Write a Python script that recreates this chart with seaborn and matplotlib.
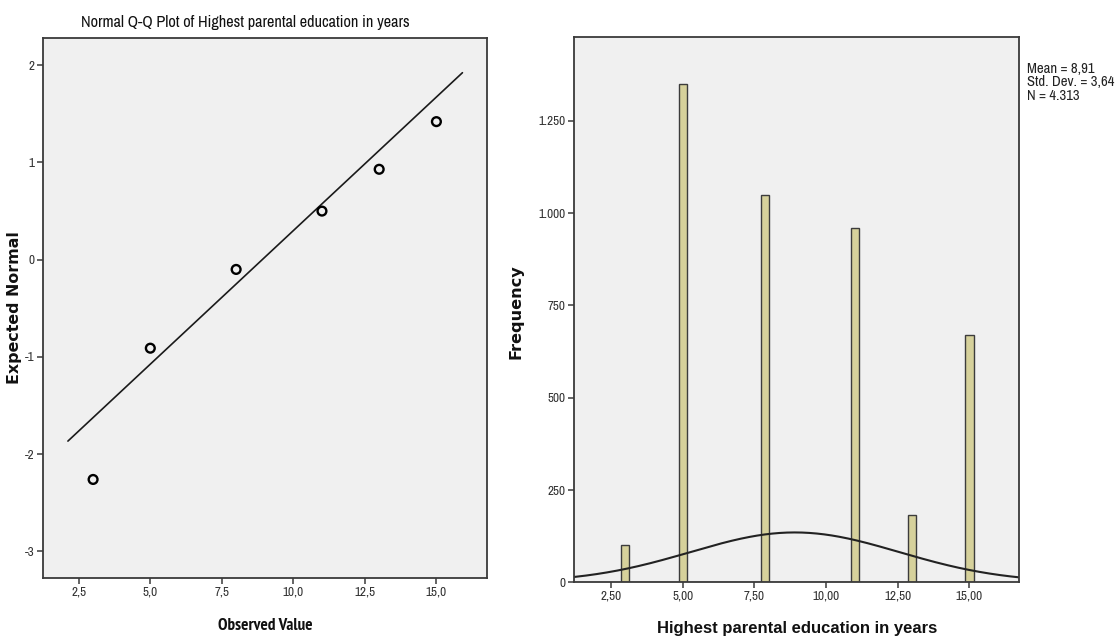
import numpy as np
import pandas as pd
import matplotlib
matplotlib.use("Agg")
import matplotlib.pyplot as plt
from matplotlib import font_manager
from matplotlib.ticker import FixedLocator, FuncFormatter
import seaborn as sns

# Highest parental education in years: distinct values and their frequencies
years = [3, 5, 8, 11, 13, 15]
counts = [100, 1350, 1050, 960, 182, 671]

# Expected normal scores of each distinct value (Q-Q plot)
expected_normal = [-2.26, -0.91, -0.10, 0.50, 0.93, 1.42]

# Summary statistics shown beside the histogram
mean_val = 8.91
sd_val = 3.64
n_total = 4313

# Histogram binning: 42 equal steps between the smallest and largest value
n_steps = 42
# Span of the Q-Q reference line
fit_range = [2.12, 15.91]

qq_xticks = [2.5, 5.0, 7.5, 10.0, 12.5, 15.0]
qq_yticks = [-3, -2, -1, 0, 1, 2]
hist_xticks = [2.5, 5.0, 7.5, 10.0, 12.5, 15.0]
hist_yticks = [0, 250, 500, 750, 1000, 1250]

sns.set_theme(style="white")

font_weights = {}
for f in font_manager.fontManager.ttflist:
    w = f.weight if isinstance(f.weight, int) else 400
    font_weights.setdefault(f.name, set()).add(w)


def pick(candidates, default, need_bold=False):
    for c in candidates:
        if c in font_weights:
            if not need_bold or any(w >= 600 for w in font_weights[c]):
                return c
    return default


NARROW_CANDIDATES = ["Liberation Sans Narrow", "Arial Narrow", "Archivo Narrow",
                     "PT Sans Narrow", "Roboto Condensed", "Fira Sans Condensed",
                     "IBM Plex Sans Condensed", "Encode Sans Condensed",
                     "Asap Condensed", "Sofia Sans Condensed",
                     "Barlow Semi Condensed", "Pragati Narrow"]
NARROW_FAMILY = pick(NARROW_CANDIDATES, "Liberation Sans")
NARROW_BOLD_FAMILY = pick(NARROW_CANDIDATES, "Liberation Sans", need_bold=True)
SANS_FAMILY = pick(["Liberation Sans", "Arimo"], "DejaVu Sans")
NARROW = [NARROW_FAMILY, "DejaVu Sans"]
NARROW_BOLD = [NARROW_BOLD_FAMILY, "DejaVu Sans"]
BOLD = [SANS_FAMILY, "DejaVu Sans"]
WIDE_BOLD = ["DejaVu Sans"]
plt.rcParams["font.family"] = NARROW

PANEL_BG = "#f0f0f0"
FRAME = "#3a3a3a"
TICK_TXT = "#333333"

fig = plt.figure(figsize=(11.19, 6.42), dpi=100)
fig.patch.set_facecolor("white")
ax_qq = fig.add_axes([0.0382, 0.1002, 0.3973, 0.8406])
ax_h = fig.add_axes([0.5130, 0.0930, 0.3979, 0.8498])


def decimal_comma(v, decimals):
    """Format a number with '.' for thousands and ',' for decimals."""
    s = f"{v:,.{decimals}f}"
    return s.replace(",", "X").replace(".", ",").replace("X", ".")


def comma_fmt(decimals):
    return FuncFormatter(lambda v, _pos: decimal_comma(v, decimals))


for ax in (ax_qq, ax_h):
    ax.set_facecolor(PANEL_BG)
    for sp in ax.spines.values():
        sp.set_color(FRAME)
        sp.set_linewidth(1.3)
    ax.tick_params(axis="both", direction="out", length=4, width=1.1,
                   color=FRAME, labelcolor=TICK_TXT, labelsize=9.5,
                   bottom=True, left=True, pad=2)
    ax.grid(False)

# ---- Normal Q-Q plot ----
qq = pd.DataFrame({"observed": years, "expected": expected_normal})
line_x = np.array(fit_range)
line = pd.DataFrame({"x": line_x, "y": (line_x - mean_val) / sd_val})
sns.lineplot(data=line, x="x", y="y", ax=ax_qq, color="#1a1a1a", linewidth=1.2)
sns.scatterplot(data=qq, x="observed", y="expected", ax=ax_qq, marker="o",
                s=40, facecolor="none", edgecolor="black", linewidth=1.7,
                zorder=3)
ax_qq.set_xlim(1.24, 16.78)
ax_qq.set_ylim(-3.27, 2.28)
ax_qq.xaxis.set_major_locator(FixedLocator(qq_xticks))
ax_qq.yaxis.set_major_locator(FixedLocator(qq_yticks))
ax_qq.xaxis.set_major_formatter(comma_fmt(1))
ax_qq.yaxis.set_major_formatter(comma_fmt(0))
ax_qq.set_xlabel("")
ax_qq.set_ylabel("")

# ---- Histogram with normal curve ----
lo, hi = min(years), max(years)
bw = (hi - lo) / n_steps
# right-closed bins: a value on a bin boundary falls into the lower bin
edges = lo - bw / 2 + bw * np.arange(n_steps + 2) + 1e-9
cases = pd.DataFrame({"years": np.repeat(years, counts)})
sns.histplot(data=cases, x="years", bins=edges, ax=ax_h,
             color="#d6d19b", edgecolor="#3c3c3c", linewidth=1.0, alpha=1.0)

ax_h.set_xlim(1.21, 16.74)
ax_h.set_ylim(0, 1478)
curve_x = np.linspace(*ax_h.get_xlim(), 300)
curve_y = (n_total * bw / (sd_val * np.sqrt(2 * np.pi))
           * np.exp(-0.5 * ((curve_x - mean_val) / sd_val) ** 2))
sns.lineplot(x=curve_x, y=curve_y, ax=ax_h, color="#222222", linewidth=1.5)

ax_h.xaxis.set_major_locator(FixedLocator(hist_xticks))
ax_h.yaxis.set_major_locator(FixedLocator(hist_yticks))
ax_h.xaxis.set_major_formatter(comma_fmt(2))
ax_h.yaxis.set_major_formatter(comma_fmt(0))
ax_h.set_xlabel("")
ax_h.set_ylabel("")

# ---- Titles, axis labels and summary box ----
W, H = fig.get_size_inches() * fig.dpi
renderer = fig.canvas.get_renderer()


def fit_text(t, span_px, along="width"):
    """Scale a text's font size so that it spans span_px pixels."""
    bb = t.get_window_extent(renderer)
    size = bb.width if along == "width" else bb.height
    t.set_fontsize(t.get_fontsize() * span_px / size)


def px(x, y):
    return x / W, 1 - y / H


title = fig.text(*px(245, 22), "Normal Q-Q Plot of Highest parental education in years",
                 ha="center", va="center", fontsize=13, family=NARROW,
                 color="#111111")
fit_text(title, 330)

obs = fig.text(*px(265, 626), "Observed Value", ha="center", va="center",
               fontsize=12, family=NARROW_BOLD, fontweight="bold",
               color="#111111")
fit_text(obs, 94)

exp_lbl = fig.text(*px(15, 308), "Expected Normal", ha="center", va="center",
                   rotation=90, fontsize=11, family=WIDE_BOLD,
                   fontweight="bold", color="#111111")
fit_text(exp_lbl, 152, along="height")

freq = fig.text(*px(516, 312), "Frequency", ha="center", va="center",
                rotation=90, fontsize=11, family=WIDE_BOLD, fontweight="bold",
                color="#111111")
fit_text(freq, 94, along="height")

xlab = fig.text(*px(797, 629), "Highest parental education in years",
                ha="center", va="center", fontsize=12, family=BOLD,
                fontweight="bold", color="#111111")
fit_text(xlab, 280)

stats_lines = [f"Mean = {decimal_comma(mean_val, 2)}",
               f"Std. Dev. = {decimal_comma(sd_val, 2)}",
               f"N = {decimal_comma(n_total, 0)}"]
stats = fig.text(*px(1027, 62), "\n".join(stats_lines), ha="left", va="top",
                 fontsize=9, family=NARROW, color="#222222", linespacing=0.95)
probe = fig.text(0, 0, stats_lines[1], fontsize=9, family=NARROW)
bb = probe.get_window_extent(renderer)
stats.set_fontsize(9 * 86 / bb.width)
probe.remove()

fig.savefig("out.png", dpi=100, facecolor="white")
